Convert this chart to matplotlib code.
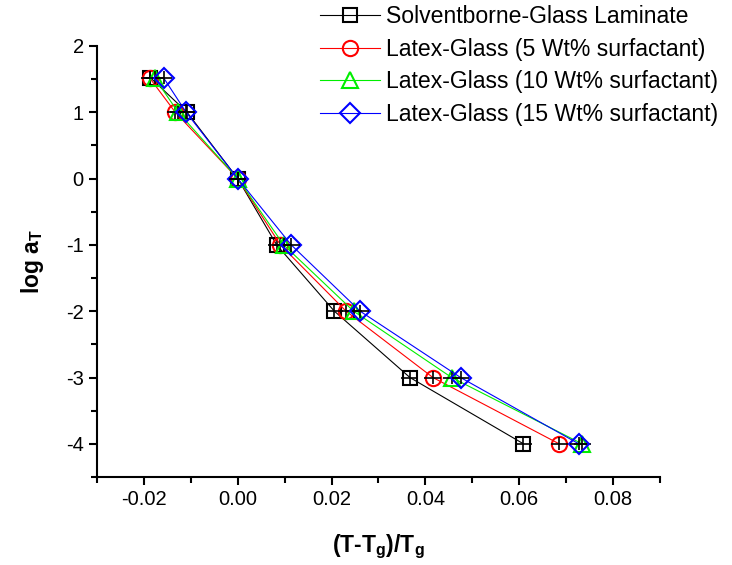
import numpy as np
import matplotlib
matplotlib.use('Agg')
import matplotlib.pyplot as plt
from matplotlib.ticker import MultipleLocator, FormatStrFormatter

plt.rcParams['font.family'] = ['Liberation Sans', 'DejaVu Sans']
plt.rcParams['mathtext.default'] = 'regular'
plt.rcParams['axes.unicode_minus'] = False

# shift factor levels (log aT)
log_aT = [1.52, 1.0, 0.0, -1.0, -2.0, -3.0, -4.0]

# (T-Tg)/Tg for each sample
x_solvent = [-0.0186, -0.0108, 0.0, 0.0083, 0.0206, 0.0367, 0.0609]
x_latex5 = [-0.0188, -0.0133, 0.0, 0.0091, 0.0231, 0.0416, 0.0685]
x_latex10 = [-0.0177, -0.0127, 0.0, 0.0098, 0.0247, 0.0456, 0.0734]
x_latex15 = [-0.0158, -0.0110, 0.0, 0.0114, 0.0261, 0.0475, 0.0727]

labels = ['Solventborne-Glass Laminate',
          'Latex-Glass (5 Wt% surfactant)',
          'Latex-Glass (10 Wt% surfactant)',
          'Latex-Glass (15 Wt% surfactant)']
colors = ['black', 'red', '#00ee00', 'blue']
markers = ['s', 'o', '^', 'D']
sizes = [10, 11, 11, 10]

fig = plt.figure(figsize=(7.32, 5.65), dpi=100)
ax = fig.add_axes([0.1325, 0.1558, 0.9016 - 0.1325, 0.9186 - 0.1558])

handles = []
for xs, lab, c, m, s in zip([x_solvent, x_latex5, x_latex10, x_latex15],
                            labels, colors, markers, sizes):
    h, = ax.plot(xs, log_aT, color=c, lw=0.8, marker=m, markersize=s,
                 markerfacecolor='none', markeredgecolor=c, markeredgewidth=1.5,
                 label=lab)
    ax.errorbar(xs, log_aT, xerr=0.0018, yerr=0.1, fmt='none',
                ecolor='black', elinewidth=1.2, capsize=0)
    handles.append(h)

ax.set_xlim(-0.03, 0.09)
ax.set_ylim(-4.5, 2)
ax.spines['top'].set_visible(False)
ax.spines['right'].set_visible(False)
ax.spines['left'].set_linewidth(1.5)
ax.spines['bottom'].set_linewidth(1.5)

ax.xaxis.set_major_locator(MultipleLocator(0.02))
ax.xaxis.set_minor_locator(MultipleLocator(0.01))
ax.xaxis.set_major_formatter(FormatStrFormatter('%.2f'))
ax.yaxis.set_major_locator(MultipleLocator(1))
ax.yaxis.set_minor_locator(MultipleLocator(0.5))
ax.set_xticks([-0.02, 0.0, 0.02, 0.04, 0.06, 0.08])
ax.tick_params(which='major', direction='out', length=6, width=1.5, labelsize=14.5)
ax.tick_params(which='minor', direction='out', length=4, width=1.5)

ax.set_xlabel('(T-T$_g$)/T$_g$', fontsize=16.5, fontweight='bold', labelpad=17)
ax.set_ylabel('log a$_T$', fontsize=16.5, fontweight='bold', labelpad=14)

fig.legend(handles=handles, loc='upper left', bbox_to_anchor=(0.424, 1.007),
           frameon=False, fontsize=16.6, handlelength=2.6, handletextpad=0.3,
           labelspacing=0.41, numpoints=1, borderaxespad=0.0)

fig.savefig('out.png', dpi=100)
